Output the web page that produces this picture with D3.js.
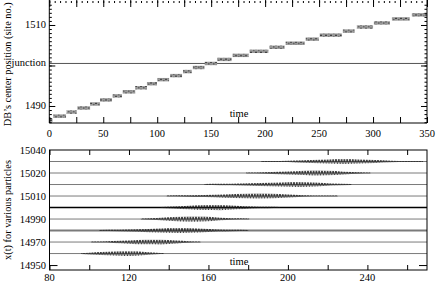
<!DOCTYPE html>
<html>
<head>
<meta charset="utf-8">
<script src="https://cdn.jsdelivr.net/npm/d3@7"></script>
<style>
  body { margin: 0; background: #fff; }
  svg { display: block; }
  text { font-family: "Liberation Serif", "Times New Roman", serif; fill: #000; }
  .axis path { display: none; }
  .axis line { stroke: #000; }
</style>
</head>
<body>
<svg id="chart" width="436" height="283"></svg>
<script>
// ---- upper panel: staircase of DB centre position ----
const stepStart = [0, 3.7, 16, 26, 37.8, 47, 58.6, 68, 79.6, 90.5, 100, 112, 123.9, 133, 144, 155.5,
                   169.8, 185.6, 204, 219, 237.6, 250.6, 272, 285, 300.8, 317.5, 336];
const stepEnd   = [3, 15.5, 25.4, 37.8, 47, 58, 67.3, 79.6, 90.5, 99.8, 111, 123, 132, 143.8, 155.5, 168.9,
                   184.7, 203, 218, 236.7, 249.7, 271, 283, 300, 315.7, 334, 350];
const stepLevel = [1486.5, 1487.5, 1488.5, 1489.5, 1490.5, 1491.5, 1492.5, 1493.5, 1494.5, 1495.5,
                   1496.5, 1497.5, 1498.5, 1499.5, 1500.5, 1501.5, 1502.5, 1503.5, 1504.5, 1505.5,
                   1506.5, 1507.5, 1508.5, 1509.5, 1510.5, 1511.5, 1512.5];
const junction = 1500.5;
const topXTicks = [0, 50, 100, 150, 200, 250, 300, 350];
const topYLabels = [1490, 1510];

// ---- lower panel: particle trajectories ----
const traceSlots = [1, 2, 3, 4, 5, 6, 7, 8, 9];
const packetTimes = [
  [96, 100, 106, 112, 118, 124, 130, 134, 137.5],
  [101, 106, 112, 120, 128, 136, 144, 150, 156],
  [105, 115, 125, 135, 145, 155, 165, 172, 180],
  [126, 134, 142, 150, 158, 166, 172, 180.5],
  [136, 142, 150, 158, 166, 174, 182, 190, 196],
  [139, 148, 158, 168, 178, 188, 198, 208, 218, 225],
  [158, 166, 176, 186, 196, 206, 214, 222, 232],
  [179, 188, 196, 204, 212, 220, 228, 236, 241.5],
  [186.5, 196, 204, 212, 220, 228, 236, 244, 252, 260, 268]
];
const packetAmps = [
  [0.05, 0.08, 0.13, 0.18, 0.21, 0.19, 0.11, 0.07, 0.05],
  [0.05, 0.05, 0.08, 0.14, 0.2, 0.21, 0.13, 0.07, 0.05],
  [0.05, 0.06, 0.11, 0.18, 0.21, 0.18, 0.09, 0.06, 0.05],
  [0.05, 0.09, 0.18, 0.23, 0.21, 0.11, 0.06, 0.05],
  [0.05, 0.09, 0.16, 0.22, 0.23, 0.16, 0.08, 0.06, 0.05],
  [0.05, 0.06, 0.09, 0.14, 0.19, 0.21, 0.15, 0.07, 0.05, 0.05],
  [0.05, 0.06, 0.08, 0.13, 0.18, 0.21, 0.17, 0.09, 0.05],
  [0.05, 0.07, 0.11, 0.16, 0.21, 0.19, 0.12, 0.07, 0.05],
  [0.05, 0.05, 0.08, 0.13, 0.18, 0.21, 0.18, 0.13, 0.07, 0.05, 0.05]
];
const botXTicks = [80, 100, 120, 140, 160, 180, 200, 220, 240, 260];
const botYSlots = [0, 2, 4, 6, 8, 10];
const botYLabels = ["14950", "14970", "14990", "15010", "15020", "15040"];

const svg = d3.select("#chart");
const defs = svg.append("defs");

// speckled grey for the staircase bands
const speck = defs.append("pattern").attr("id", "speck")
  .attr("patternUnits", "userSpaceOnUse").attr("width", 5).attr("height", 3.4)
  .attr("y", 0.2);
speck.append("rect").attr("width", 5).attr("height", 3.4).attr("fill", "#999");
speck.append("rect").attr("x", 0).attr("y", 0.6).attr("width", 2).attr("height", 1).attr("fill", "#333");
speck.append("rect").attr("x", 3).attr("y", 2).attr("width", 1.5).attr("height", 1).attr("fill", "#444");

// ================= upper panel =================
const xTop = d3.scaleLinear().domain([0, 350]).range([49.3, 427]);
const yTop = d3.scaleLinear().domain([1485.8, 1515.8]).range([123, 1.5]);

const gTop = svg.append("g");

gTop.append("line")
  .attr("x1", xTop(0)).attr("x2", xTop(350))
  .attr("y1", yTop(junction)).attr("y2", yTop(junction))
  .attr("stroke", "#555").attr("stroke-width", 1);

gTop.selectAll("rect.step")
  .data(stepLevel)
  .enter().append("rect")
  .attr("class", "step")
  .attr("x", (d, i) => xTop(stepStart[i]))
  .attr("width", (d, i) => xTop(stepEnd[i]) - xTop(stepStart[i]))
  .attr("y", d => yTop(d) - 1.7)
  .attr("height", 3.4)
  .attr("fill", "url(#speck)");

// axes: minor and major ticks on all sides
const yMinor = d3.range(1486, 1516);
gTop.append("g").attr("class", "axis").attr("transform", `translate(${xTop(0)},0)`)
  .call(d3.axisRight(yTop).tickValues(yMinor).tickSize(2.5).tickFormat(""));
gTop.append("g").attr("class", "axis").attr("transform", `translate(${xTop(350)},0)`)
  .call(d3.axisLeft(yTop).tickValues(yMinor).tickSize(2.5).tickFormat(""));
gTop.append("g").attr("class", "axis").attr("transform", `translate(${xTop(0)},0)`)
  .call(d3.axisRight(yTop).tickValues([1490, 1500, 1510]).tickSize(6).tickFormat(""));
gTop.append("g").attr("class", "axis").attr("transform", `translate(${xTop(350)},0)`)
  .call(d3.axisLeft(yTop).tickValues([1490, 1500, 1510]).tickSize(6).tickFormat(""));

gTop.append("g").attr("class", "axis").attr("transform", `translate(0,${yTop.range()[0]})`)
  .call(d3.axisTop(xTop).tickValues(d3.range(0, 351, 25)).tickSize(6).tickFormat(""));
gTop.append("g").attr("class", "axis").attr("transform", `translate(0,0)`)
  .call(d3.axisBottom(xTop).tickValues(d3.range(0, 351, 25)).tickSize(7).tickFormat(""));
gTop.append("g").attr("class", "axis minor").attr("transform", `translate(0,1)`)
  .call(d3.axisBottom(xTop).tickValues(d3.range(0, 351, 5)).tickSize(2).tickFormat(""))
  .selectAll("line").attr("stroke", "#888");

// frame without a solid top edge
gTop.append("path")
  .attr("d", `M${xTop(0)},0V${yTop.range()[0]}H${xTop(350)}V0`)
  .attr("fill", "none").attr("stroke", "#000");

gTop.selectAll("text.xl").data(topXTicks).enter().append("text")
  .attr("x", d => xTop(d)).attr("y", 136.5)
  .attr("text-anchor", "middle").attr("font-size", 10.5)
  .text(d => d);
gTop.selectAll("text.yl").data(topYLabels).enter().append("text")
  .attr("x", 46).attr("y", d => yTop(d) + 3.5)
  .attr("text-anchor", "end").attr("font-size", 10.5)
  .text(d => d);
gTop.append("text").attr("x", 46).attr("y", yTop(junction) + 3)
  .attr("text-anchor", "end").attr("font-size", 10.5).text("junction");
gTop.append("text").attr("x", 239).attr("y", 117)
  .attr("text-anchor", "middle").attr("font-size", 10.5).text("time");
gTop.append("text")
  .attr("transform", `translate(11,${(yTop.range()[0] + yTop.range()[1]) / 2 + 2}) rotate(-90)`)
  .attr("text-anchor", "middle").attr("font-size", 10.3)
  .text("DB\u2019s center position (site no.)");

// ================= lower panel =================
const xBot = d3.scaleLinear().domain([80, 270]).range([49.5, 427]);
const yBot = d3.scaleLinear().domain([-0.43, 10]).range([270, 150]);

const gBot = svg.append("g");
const waveH = 2.8;

traceSlots.forEach((s, i) => {
  const p = defs.append("pattern").attr("id", "zig" + i)
    .attr("patternUnits", "userSpaceOnUse")
    .attr("x", 0).attr("y", yBot(s) - waveH)
    .attr("width", 2.8).attr("height", 2 * waveH);
  p.append("path")
    .attr("d", `M0,0L1.4,${2 * waveH}L2.8,0`)
    .attr("fill", "none").attr("stroke", "#1a1a1a").attr("stroke-width", 0.9);
});

gBot.selectAll("line.base").data(traceSlots).enter().append("line")
  .attr("x1", xBot(80)).attr("x2", xBot(270))
  .attr("y1", d => yBot(d)).attr("y2", d => yBot(d))
  .attr("stroke", d => d === 5 ? "#000" : "#7a7a7a")
  .attr("stroke-width", d => d === 5 ? 1.4 : d === 3 ? 2 : 1);

const area = d3.area()
  .curve(d3.curveMonotoneX)
  .x(d => xBot(d.t))
  .y0(d => yBot(d.s - d.a))
  .y1(d => yBot(d.s + d.a));

traceSlots.forEach((s, i) => {
  const pts = packetTimes[i].map((t, j) => ({ t: t, a: packetAmps[i][j], s: s }));
  gBot.append("path").datum(pts)
    .attr("d", area)
    .attr("fill", `url(#zig${i})`);
});

gBot.append("g").attr("class", "axis").attr("transform", `translate(0,${yBot.range()[0]})`)
  .call(d3.axisTop(xBot).tickValues(botXTicks).tickSize(5).tickFormat(""));
gBot.append("g").attr("class", "axis").attr("transform", `translate(0,${yBot.range()[1]})`)
  .call(d3.axisBottom(xBot).tickValues(botXTicks).tickSize(5).tickFormat(""));
gBot.append("g").attr("class", "axis").attr("transform", `translate(${xBot(80)},0)`)
  .call(d3.axisRight(yBot).tickValues([0]).tickSize(8).tickFormat(""));
gBot.append("g").attr("class", "axis").attr("transform", `translate(${xBot(270)},0)`)
  .call(d3.axisLeft(yBot).tickValues([0]).tickSize(8).tickFormat(""));

gBot.append("rect")
  .attr("x", xBot(80)).attr("y", yBot.range()[1])
  .attr("width", xBot(270) - xBot(80)).attr("height", yBot.range()[0] - yBot.range()[1])
  .attr("fill", "none").attr("stroke", "#000");

gBot.selectAll("text.xl").data([80, 120, 160, 200, 240]).enter().append("text")
  .attr("x", d => xBot(d)).attr("y", 281)
  .attr("text-anchor", "middle").attr("font-size", 10.5)
  .text(d => d);
gBot.selectAll("text.yl").data(botYSlots).enter().append("text")
  .attr("x", 46).attr("y", d => yBot(d) + 3.5)
  .attr("text-anchor", "end").attr("font-size", 10.5)
  .text((d, i) => botYLabels[i]);
gBot.append("text").attr("x", 239).attr("y", 265)
  .attr("text-anchor", "middle").attr("font-size", 10.5).text("time");
gBot.append("text")
  .attr("transform", `translate(11,${(yBot.range()[0] + yBot.range()[1]) / 2}) rotate(-90)`)
  .attr("text-anchor", "middle").attr("font-size", 10.3)
  .text("x(t) for various particles");
</script>
</body>
</html>
